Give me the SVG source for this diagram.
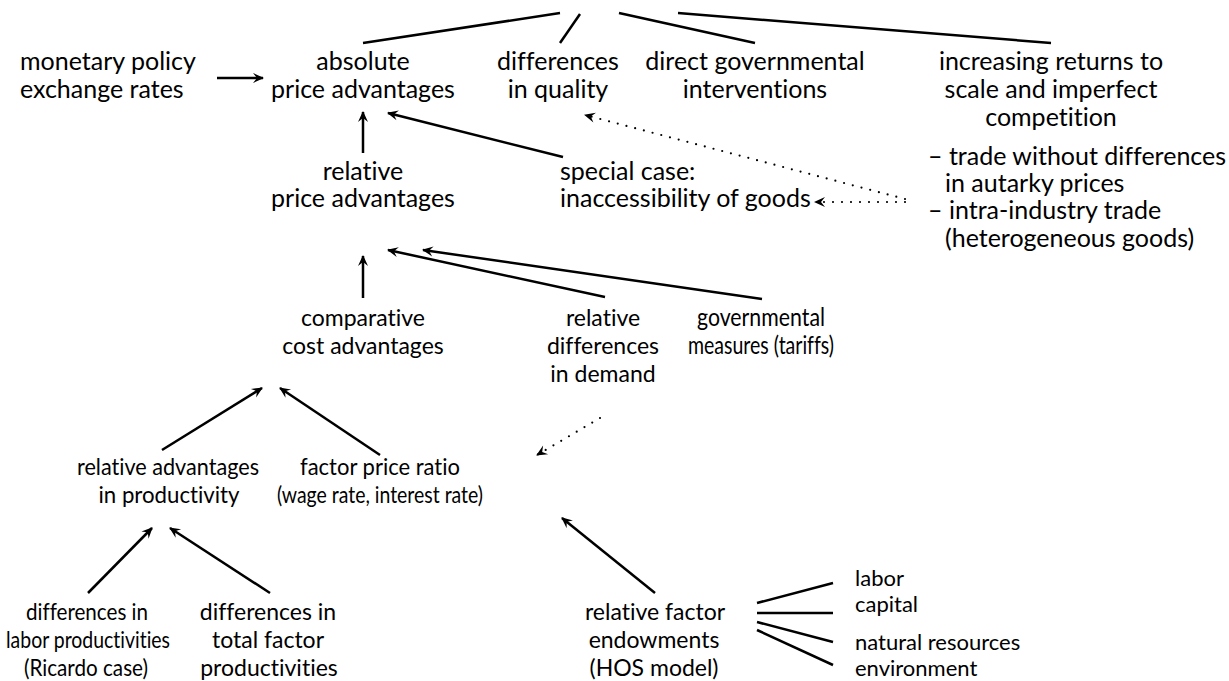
<svg xmlns="http://www.w3.org/2000/svg" width="1229" height="681" viewBox="0 0 1229 681">
<style>
text{font-family:"Lato","Open Sans","DejaVu Sans",sans-serif;font-size:25px;fill:#000;font-variant-ligatures:none}
.c{text-anchor:middle}
.m{font-size:23px}
.s{font-size:22px}
.l{stroke:#000;stroke-width:2.5;fill:none}
.a{stroke:#000;stroke-width:2.5;fill:none;marker-end:url(#ah)}
.d{stroke:#000;stroke-width:2.2;fill:none;stroke-dasharray:0 9;stroke-linecap:round;marker-end:url(#ah)}
</style>
<defs>
<marker id="ah" viewBox="-12 -6 14 12" refX="0" refY="0" markerWidth="14" markerHeight="12" markerUnits="userSpaceOnUse" orient="auto">
<path d="M1,0 L-10,-5 L-6,0 L-10,5 Z" fill="#000"/>
</marker>
</defs>
<rect width="1229" height="681" fill="#fff"/>
<g id="connectors">
<line class="l" x1="363" y1="43" x2="560" y2="13"/>
<line class="l" x1="580" y1="14" x2="560" y2="43"/>
<line class="l" x1="619" y1="13" x2="755" y2="43"/>
<line class="l" x1="678" y1="13" x2="1051" y2="43"/>
<line class="a" x1="217" y1="78" x2="263" y2="78"/>
<line class="a" x1="363" y1="153" x2="363" y2="112"/>
<line class="a" x1="563" y1="157" x2="388" y2="113"/>
<path class="d" d="M905,199 L585,115"/>
<path class="d" d="M905,202 L815,202"/>
<line class="a" x1="363" y1="298" x2="363" y2="256"/>
<line class="a" x1="605" y1="297" x2="388" y2="250"/>
<line class="a" x1="762" y1="299" x2="423" y2="250"/>
<line class="a" x1="162" y1="450" x2="262" y2="388"/>
<line class="a" x1="380" y1="455" x2="280" y2="388"/>
<path class="d" d="M600,418 L537,455"/>
<line class="a" x1="88" y1="593" x2="152" y2="528"/>
<line class="a" x1="270" y1="593" x2="170" y2="528"/>
<line class="a" x1="655" y1="593" x2="562" y2="518"/>
<line class="l" x1="757" y1="603" x2="833" y2="583"/>
<line class="l" x1="757" y1="613" x2="833" y2="613"/>
<line class="l" x1="757" y1="622" x2="833" y2="642"/>
<line class="l" x1="757" y1="630" x2="833" y2="665"/>
</g>
<g id="monetary"><text x="20" y="70">monetary policy</text><text x="20" y="98">exchange rates</text></g>
<g id="absolute"><text class="c" x="363" y="70">absolute</text><text class="c" x="363" y="98">price advantages</text></g>
<g id="quality"><text class="c" x="558" y="70">differences</text><text class="c" x="558" y="98">in quality</text></g>
<g id="direct"><text class="c" x="755" y="70">direct governmental</text><text class="c" x="755" y="98">interventions</text></g>
<g id="increasing"><text class="c" x="1051" y="70">increasing returns to</text><text class="c" x="1051" y="98">scale and imperfect</text><text class="c" x="1051" y="126">competition</text></g>
<g id="trade"><text x="928" y="165">– trade without differences</text><text x="945" y="192">in autarky prices</text><text x="928" y="219">– intra-industry trade</text><text x="945" y="247">(heterogeneous goods)</text></g>
<g id="relprice"><text class="c" x="363" y="180">relative</text><text class="c" x="363" y="207">price advantages</text></g>
<g id="special"><text x="560" y="180">special case:</text><text x="560" y="207">inaccessibility of goods</text></g>
<g id="comparative"><text class="c m" x="363" y="326">comparative</text><text class="c m" x="363" y="354">cost advantages</text></g>
<g id="demand"><text class="c m" x="603" y="326">relative</text><text class="c m" x="603" y="354">differences</text><text class="c m" x="603" y="382">in demand</text></g>
<g id="govmeasures"><text class="c" x="761" y="326" font-size="24" textLength="128" lengthAdjust="spacingAndGlyphs">governmental</text><text class="c" x="761" y="354" font-size="24" textLength="146" lengthAdjust="spacingAndGlyphs">measures (tariffs)</text></g>
<g id="reladv"><text class="c m" x="168" y="475" textLength="182" lengthAdjust="spacingAndGlyphs">relative advantages</text><text class="c m" x="169" y="503" textLength="141" lengthAdjust="spacingAndGlyphs">in productivity</text></g>
<g id="factorprice"><text class="c m" x="380" y="475" textLength="160" lengthAdjust="spacingAndGlyphs">factor price ratio</text><text class="c m" x="380" y="503" textLength="206" lengthAdjust="spacingAndGlyphs">(wage rate, interest rate)</text></g>
<g id="ricardo"><text class="c m" x="87" y="620" textLength="122" lengthAdjust="spacingAndGlyphs">differences in</text><text class="c m" x="88" y="648" textLength="164" lengthAdjust="spacingAndGlyphs">labor productivities</text><text class="c m" x="86" y="676" textLength="124" lengthAdjust="spacingAndGlyphs">(Ricardo case)</text></g>
<g id="tfp"><text class="c m" x="268" y="620">differences in</text><text class="c m" x="268" y="648">total factor</text><text class="c m" x="269" y="676">productivities</text></g>
<g id="hos"><text class="c m" x="655" y="620">relative factor</text><text class="c m" x="654" y="648">endowments</text><text class="c m" x="654" y="676">(HOS model)</text></g>
<g id="factors"><text class="s" x="855" y="586">labor</text><text class="s" x="855" y="612">capital</text><text class="s" x="855" y="650">natural resources</text><text class="s" x="855" y="676">environment</text></g>
</svg>
